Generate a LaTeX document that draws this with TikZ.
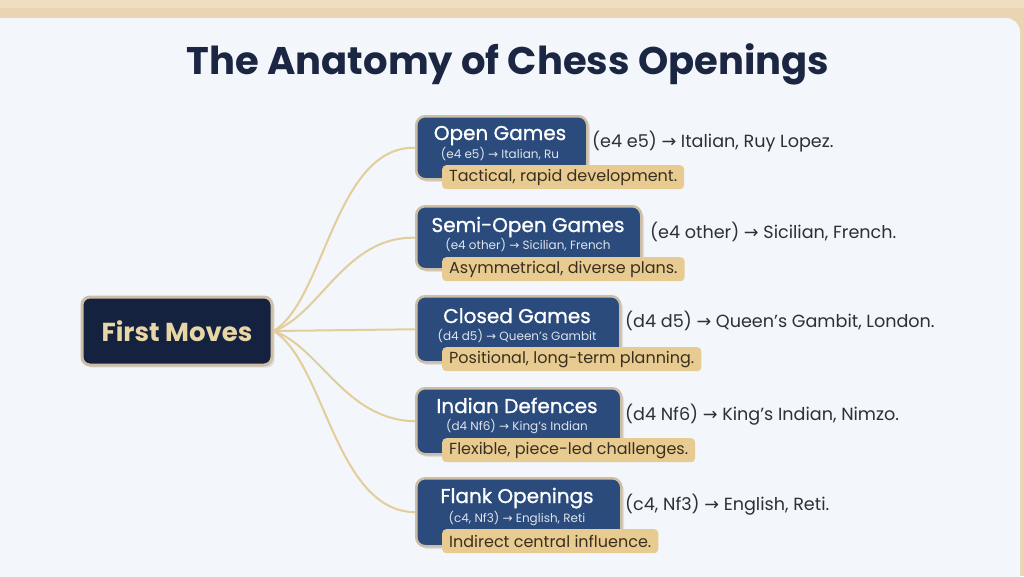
\documentclass[tikz,border=0pt]{standalone}
\usepackage{fontspec}
\setmainfont{Poppins}
\newfontfamily\arrfont{DejaVu Sans}
\newfontfamily\popsemi[FakeBold=1.1]{Poppins}
\usetikzlibrary{shadows}
\newcommand{\rarr}{{\arrfont →}}
\definecolor{wood}{HTML}{EAD5B3}
\definecolor{woodlight}{HTML}{F2E4CC}
\definecolor{panel}{HTML}{F3F6FA}
\definecolor{titlecol}{HTML}{1B2642}
\definecolor{rootfill}{HTML}{14223F}
\definecolor{roottext}{HTML}{E9D6A6}
\definecolor{catblue}{HTML}{2A4B7C}
\definecolor{boxedge}{HTML}{CDBEA5}
\definecolor{tagfill}{HTML}{E8CB90}
\definecolor{tagtext}{HTML}{3A2F1F}
\definecolor{linkcol}{HTML}{E3CD9B}
\definecolor{bodytext}{HTML}{2B303A}
\tikzset{
  rootbox/.style={draw=boxedge, line width=3pt, fill=rootfill, rounded corners=8pt,
    minimum width=190pt, minimum height=68pt, inner sep=0pt, text=roottext,
    font=\fontsize{26}{30}\selectfont\bfseries, drop shadow={opacity=0.18}},
  catbox/.style={draw=boxedge, line width=2.5pt, fill=catblue, rounded corners=9pt,
    anchor=north west, inner sep=0pt, drop shadow={opacity=0.18}},
  cattitle/.style={anchor=base, text=white, inner sep=0pt, font=\popsemi\fontsize{20}{24}\selectfont},
  catsub/.style={anchor=base, text=white!85!catblue, inner sep=0pt, font=\fontsize{12}{14}\selectfont},
  tag/.style={anchor=north west, fill=tagfill, rounded corners=4pt, text=tagtext,
    inner xsep=7pt, inner ysep=0pt, minimum height=24pt, font=\fontsize{16}{19}\selectfont},
  side/.style={anchor=base west, text=bodytext, inner sep=0pt, font=\fontsize{17.6}{20}\selectfont},
  link/.style={draw=linkcol, line width=2pt}
}
\begin{document}
\begin{tikzpicture}[x=1pt,y=-1pt]
\useasboundingbox (0,0) rectangle (1024,576);
\clip (0,0) rectangle (1024,576);
% background
\fill[wood] (0,0) rectangle (1024,576);
\fill[woodlight!60!wood] (0,0) rectangle (1024,8);
\fill[panel, rounded corners=14pt] (-20,18) rectangle (1020,640);
% title
\node[text=titlecol, font=\fontsize{38.5}{46}\selectfont\bfseries, inner sep=0pt] (title) at (508,64) {The Anatomy of Chess Openings};
% root
\node[rootbox] (root) at (177,331) {First Moves};
% category boxes
\node[catbox, minimum width=171pt, minimum height=63pt] (b1) at (415,115) {};
\node[catbox, minimum width=225pt, minimum height=63pt] (b2) at (415,205) {};
\node[catbox, minimum width=204pt, minimum height=66pt] (b3) at (415,295) {};
\node[catbox, minimum width=205pt, minimum height=66pt] (b4) at (415,387) {};
\node[catbox, minimum width=205pt, minimum height=68pt] (b5) at (415,477) {};
% titles
\node[cattitle] (t1) at (500,140) {Open Games};
\node[catsub] (s1) at (500,158) {(e4 e5) \rarr\ Italian, Ru};
\node[cattitle] (t2) at (528,232) {Semi-Open Games};
\node[catsub] (s2) at (528,249) {(e4 other) \rarr\ Sicilian, French};
\node[cattitle] (t3) at (517,323) {Closed Games};
\node[catsub] (s3) at (517,340) {(d4 d5) \rarr\ Queen’s Gambit};
\node[cattitle] (t4) at (517,413) {Indian Defences};
\node[catsub] (s4) at (517,430) {(d4 Nf6) \rarr\ King’s Indian};
\node[cattitle] (t5) at (517,503) {Flank Openings};
\node[catsub] (s5) at (517,522) {(c4, Nf3) \rarr\ English, Reti};
% tags
\node[tag] (g1) at (442,165) {Tactical, rapid development.};
\node[tag] (g2) at (442,257) {Asymmetrical, diverse plans.};
\node[tag] (g3) at (442,347) {Positional, long-term planning.};
\node[tag] (g4) at (442,438) {Flexible, piece-led challenges.};
\node[tag] (g5) at (442,529) {Indirect central influence.};
% side texts
\node[side] (r1) at (592,147) {(e4 e5) \rarr\ Italian, Ruy Lopez.};
\node[side] (r2) at (650,238) {(e4 other) \rarr\ Sicilian, French.};
\node[side] (r3) at (625,327) {(d4 d5) \rarr\ Queen’s Gambit, London.};
\node[side] (r4) at (625,420) {(d4 Nf6) \rarr\ King’s Indian, Nimzo.};
\node[side] (r5) at (625,510) {(c4, Nf3) \rarr\ English, Reti.};
% connectors
\draw[link] (root.east) .. controls (325,300) and (335,146) .. (b1.west);
\draw[link] (root.east) .. controls (320,315) and (345,236) .. (b2.west);
\draw[link] (root.east) -- (b3.west);
\draw[link] (root.east) .. controls (320,347) and (345,420) .. (b4.west);
\draw[link] (root.east) .. controls (325,362) and (335,511) .. (b5.west);
\end{tikzpicture}
\end{document}
